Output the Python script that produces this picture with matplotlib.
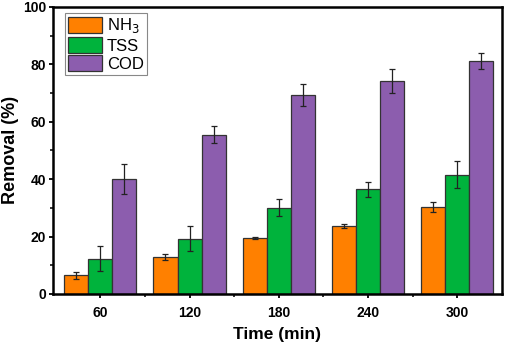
import numpy as np
import matplotlib.pyplot as plt
from matplotlib.ticker import MultipleLocator, FixedLocator

plt.rcParams['font.family'] = ['Liberation Sans', 'DejaVu Sans']

# data
times = ['60', '120', '180', '240', '300']
nh3 = [6.5, 12.9, 19.5, 23.6, 30.3]
nh3_err = [1.2, 1.0, 0.3, 0.7, 1.9]
tss = [12.3, 19.2, 30.1, 36.4, 41.6]
tss_err = [4.4, 4.4, 3.0, 2.5, 4.6]
cod = [40.1, 55.5, 69.2, 74.1, 81.1]
cod_err = [5.3, 3.0, 3.8, 4.1, 2.8]

series = [('NH$_3$', nh3, nh3_err, '#FF8000'),
          ('TSS', tss, tss_err, '#00B33C'),
          ('COD', cod, cod_err, '#8C5DAE')]

fig = plt.figure(figsize=(5.05, 3.47), dpi=100)
ax = fig.add_axes([0.105, 0.153, 0.889, 0.827])

x = np.arange(len(times))
w = 0.27
for i, (name, vals, errs, col) in enumerate(series):
    ax.bar(x + (i - 1) * w, vals, w, yerr=errs, color=col, edgecolor='#333333',
           linewidth=0.9, label=name, capsize=2.5,
           error_kw=dict(elinewidth=0.9, capthick=0.9, ecolor='#222222'))

ax.set_xlim(-0.53, 4.5)
ax.set_ylim(0, 100)
ax.set_xticks(x)
ax.set_xticklabels(times)
ax.xaxis.set_minor_locator(FixedLocator(x[:-1] + 0.5))
ax.yaxis.set_major_locator(MultipleLocator(20))
ax.yaxis.set_minor_locator(MultipleLocator(10))

for lab in ax.get_xticklabels() + ax.get_yticklabels():
    lab.set_fontweight('bold')
    lab.set_fontsize(10)
ax.tick_params(which='major', length=3, width=1.3, direction='out', pad=2)
ax.tick_params(axis='x', which='major', pad=5.5)
ax.tick_params(which='minor', length=2, width=1.1, direction='out')
for s in ax.spines.values():
    s.set_linewidth(1.8)

ax.set_xlabel('Time (min)', fontsize=12.5, fontweight='bold', labelpad=5)
ax.set_ylabel('Removal (%)', fontsize=13, fontweight='bold', labelpad=3)

leg = ax.legend(loc='upper left', fontsize=12, handlelength=2.0, handleheight=1.1,
                borderpad=0.2, labelspacing=0.1, handletextpad=0.3,
                borderaxespad=0, fancybox=False, framealpha=1,
                bbox_to_anchor=(0.027, 0.979))
leg.get_frame().set_edgecolor('#888888')
leg.get_frame().set_linewidth(0.8)

fig.savefig('out.png', dpi=100)
